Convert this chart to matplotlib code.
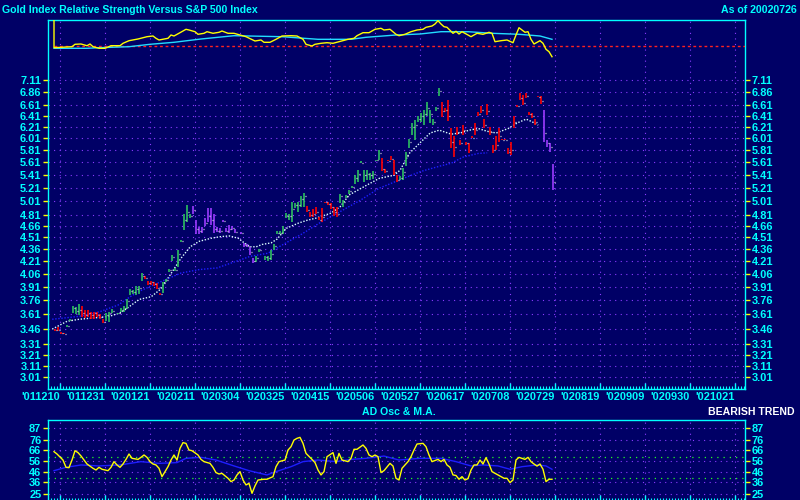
import numpy as np
import matplotlib
matplotlib.use('Agg')
import matplotlib.pyplot as plt
from matplotlib.ticker import FixedLocator, NullLocator, FixedFormatter

plt.rcParams['font.family'] = ['Liberation Sans', 'DejaVu Sans']
plt.rcParams['font.weight'] = 'bold'

# ---------------- data ----------------
tick_dates = ['2001-12-10', '2001-12-31', '2002-01-21', '2002-02-11', '2002-03-04',
              '2002-03-25', '2002-04-15', '2002-05-06', '2002-05-27', '2002-06-17',
              '2002-07-08', '2002-07-29', '2002-08-19', '2002-09-09', '2002-09-30',
              '2002-10-21']
price_ticks = [7.11, 6.86, 6.61, 6.41, 6.21, 6.01, 5.81, 5.61, 5.41, 5.21, 5.01, 4.81,
               4.66, 4.51, 4.36, 4.21, 4.06, 3.91, 3.76, 3.61, 3.46, 3.31, 3.21, 3.11, 3.01]
osc_ticks = [87, 76, 66, 56, 46, 36, 25]

# price bars: weekday index from 2001-12-10
bar_day = [-2, -1, 0, 1, 2, 3, 4, 5, 6, 7, 8, 9, 10, 11, 12, 13, 14, 15, 16, 17, 19, 20, 21, 22,
           23, 24, 25, 26, 27, 28, 29, 30, 31, 32, 33, 34, 35, 36, 37, 38, 39, 40, 41, 42, 43,
           44, 45, 46, 47, 48, 49, 50, 51, 52, 53, 54, 55, 56, 57, 58, 60, 61, 62, 63, 64, 65,
           66, 68, 69, 70, 71, 72, 73, 74, 75, 76, 77, 78, 79, 80, 81, 82, 83, 84, 85, 86, 87,
           88, 89, 90, 91, 92, 93, 94, 95, 96, 97, 98, 99, 100, 101, 102, 103, 104, 105, 106,
           107, 108, 109, 110, 111, 112, 113, 114, 115, 116, 117, 118, 119, 120, 121, 122, 123,
           124, 125, 126, 127, 128, 129, 130, 131, 132, 133, 134, 135, 136, 137, 138, 139, 140,
           141, 142, 143, 144, 145, 146, 147, 148, 149, 150, 151, 152, 153, 154, 155, 156, 157,
           158, 159, 160, 161, 162, 163, 164]
bar_high = [3.46, 3.48, 3.43, 3.42, 3.50, 3.56, 3.70, 3.69, 3.72, 3.70, 3.66, 3.66, 3.64, 3.64,
            3.64, 3.61, 3.56, 3.63, 3.64, 3.67, 3.63, 3.68, 3.70, 3.78, 3.89, 3.87, 3.92, 3.92,
            4.07, 4.04, 3.98, 3.98, 3.96, 3.95, 3.84, 3.97, 4.00, 4.12, 4.29, 4.13, 4.35, 4.48,
            4.82, 4.96, 4.82, 4.94, 4.74, 4.65, 4.65, 4.77, 4.91, 4.91, 4.82, 4.65, 4.63, 4.75,
            4.63, 4.68, 4.66, 4.62, 4.58, 4.44, 4.42, 4.39, 4.25, 4.28, 4.36, 4.28, 4.27, 4.35,
            4.43, 4.59, 4.59, 4.66, 4.84, 4.83, 4.99, 4.98, 4.99, 5.08, 5.13, 4.94, 4.86, 4.89,
            4.93, 4.79, 4.91, 5.00, 5.00, 4.98, 4.93, 4.93, 5.12, 5.03, 5.10, 5.18, 5.23, 5.40,
            5.48, 5.62, 5.48, 5.48, 5.44, 5.46, 5.65, 5.81, 5.67, 5.50, 5.65, 5.70, 5.64, 5.40,
            5.38, 5.51, 5.78, 6.00, 6.27, 6.33, 6.40, 6.46, 6.52, 6.68, 6.52, 6.35, 6.58, 6.95,
            6.68, 6.55, 6.71, 6.18, 6.04, 6.21, 5.98, 6.24, 5.95, 5.92, 6.04, 6.27, 6.49, 6.60,
            6.35, 6.63, 6.21, 5.89, 6.04, 6.18, 6.00, 6.00, 5.84, 5.95, 6.40, 6.61, 6.84, 6.81,
            6.84, 6.49, 6.47, 6.36, 6.79, 6.78, 6.52, 5.98, 5.92, 5.58]
bar_low = [3.44, 3.44, 3.41, 3.41, 3.48, 3.54, 3.62, 3.61, 3.60, 3.58, 3.57, 3.58, 3.56, 3.56,
           3.58, 3.56, 3.52, 3.54, 3.53, 3.63, 3.61, 3.64, 3.64, 3.67, 3.82, 3.83, 3.82, 3.83,
           3.98, 4.00, 3.93, 3.93, 3.92, 3.88, 3.82, 3.84, 3.97, 4.08, 4.21, 4.09, 4.14, 4.45,
           4.61, 4.72, 4.77, 4.83, 4.55, 4.55, 4.57, 4.66, 4.72, 4.68, 4.57, 4.58, 4.57, 4.71,
           4.58, 4.57, 4.61, 4.57, 4.56, 4.39, 4.39, 4.29, 4.19, 4.20, 4.33, 4.23, 4.21, 4.23,
           4.35, 4.55, 4.55, 4.55, 4.77, 4.75, 4.72, 4.91, 4.86, 4.93, 4.93, 4.86, 4.79, 4.79,
           4.82, 4.74, 4.72, 4.98, 4.96, 4.89, 4.80, 4.78, 4.98, 4.93, 5.05, 5.12, 5.20, 5.27,
           5.30, 5.59, 5.30, 5.33, 5.33, 5.34, 5.62, 5.64, 5.46, 5.44, 5.62, 5.64, 5.40, 5.30,
           5.33, 5.33, 5.54, 5.84, 6.07, 5.98, 6.30, 6.30, 6.24, 6.40, 6.27, 6.24, 6.51, 6.78,
           6.38, 6.49, 6.32, 5.84, 5.69, 6.07, 5.89, 6.07, 5.89, 5.75, 6.01, 6.07, 6.40, 6.46,
           6.18, 6.43, 6.07, 5.75, 5.81, 5.95, 5.97, 5.97, 5.74, 5.73, 6.18, 6.58, 6.71, 6.61,
           6.74, 6.43, 6.37, 6.25, 6.76, 6.63, 5.95, 5.86, 5.78, 5.18]
bar_close = [3.45, 3.45, 3.42, 3.41, 3.49, 3.55, 3.68, 3.65, 3.66, 3.62, 3.60, 3.63, 3.60, 3.62,
             3.60, 3.58, 3.53, 3.60, 3.62, 3.65, 3.62, 3.66, 3.68, 3.75, 3.86, 3.85, 3.88, 3.90,
             4.04, 4.01, 3.95, 3.96, 3.94, 3.90, 3.83, 3.95, 3.99, 4.10, 4.26, 4.11, 4.30, 4.47,
             4.75, 4.85, 4.80, 4.88, 4.62, 4.60, 4.62, 4.70, 4.80, 4.75, 4.62, 4.60, 4.60, 4.73,
             4.60, 4.62, 4.63, 4.58, 4.57, 4.41, 4.40, 4.32, 4.21, 4.25, 4.35, 4.26, 4.25, 4.30,
             4.40, 4.57, 4.57, 4.62, 4.80, 4.80, 4.90, 4.95, 4.95, 5.04, 5.08, 4.88, 4.81, 4.82,
             4.85, 4.75, 4.78, 4.99, 4.97, 4.92, 4.85, 4.82, 5.08, 5.00, 5.08, 5.16, 5.22, 5.35,
             5.42, 5.60, 5.40, 5.42, 5.40, 5.42, 5.64, 5.75, 5.50, 5.46, 5.63, 5.66, 5.45, 5.33,
             5.36, 5.45, 5.70, 5.95, 6.20, 6.25, 6.35, 6.40, 6.45, 6.55, 6.45, 6.30, 6.55, 6.88,
             6.50, 6.52, 6.40, 5.95, 5.85, 6.12, 5.92, 6.15, 5.92, 5.80, 6.02, 6.15, 6.45, 6.52,
             6.25, 6.50, 6.12, 5.80, 5.90, 6.05, 5.98, 5.98, 5.78, 5.80, 6.30, 6.60, 6.75, 6.65,
             6.78, 6.45, 6.40, 6.30, 6.77, 6.70, 6.10, 5.92, 5.85, 5.30]
bar_color = (['r'] * 4 + ['g'] * 5 + ['r'] * 8 + ['g'] * 12 + ['r'] * 6 + ['g'] * 10 +
             ['p'] * 20 + ['g'] * 16 + ['r'] * 11 + ['g'] * 14 + ['r'] * 6 + ['g'] * 14 +
             ['r'] * 34 + ['p'] * 4)

white_ma_day = [-3, 2, 6, 13, 16, 20, 23, 26, 30, 33, 36, 40, 43, 46, 50, 53, 56, 59, 61, 63,
                65, 67, 70, 72, 75, 79, 82, 85, 90, 93, 96, 102, 106, 111, 113, 116, 120, 123,
                126, 130, 133, 136, 139, 142, 145, 149, 152, 155, 157, 159]
white_ma = [3.46, 3.54, 3.56, 3.58, 3.59, 3.63, 3.70, 3.77, 3.80, 3.88, 4.03, 4.25, 4.39, 4.46,
            4.50, 4.52, 4.53, 4.50, 4.44, 4.39, 4.39, 4.42, 4.44, 4.49, 4.63, 4.70, 4.74, 4.77,
            4.84, 4.93, 5.10, 5.25, 5.35, 5.40, 5.48, 5.75, 5.95, 6.10, 6.15, 6.08, 6.10, 6.15,
            6.18, 6.13, 6.10, 6.18, 6.28, 6.35, 6.30, 6.24]
blue_ma_day = [-3, 6, 13, 19, 23, 26, 32, 36, 40, 46, 52, 63, 69, 74, 80, 86, 93, 100, 106, 113,
               120, 126, 130, 134, 139, 142]
blue_ma = [3.56, 3.59, 3.64, 3.71, 3.80, 3.86, 3.95, 4.01, 4.07, 4.11, 4.13, 4.27, 4.31, 4.42,
           4.55, 4.70, 4.86, 5.03, 5.20, 5.33, 5.46, 5.54, 5.59, 5.69, 5.75, 5.76]

# relative strength (gold / S&P, baseline = 1.0)
rs_day = [-2, -2, 4, 5, 7, 9, 10, 11, 13, 15, 17, 20, 21, 23, 26, 29, 31, 32, 33, 36, 37, 38,
          40, 42, 43, 45, 46, 48, 49, 51, 53, 54, 56, 58, 60, 62, 65, 67, 68, 70, 72, 74, 77,
          79, 81, 82, 84, 85, 87, 89, 91, 93, 96, 98, 99, 101, 103, 105, 107, 108, 110, 112,
          113, 115, 117, 119, 121, 122, 124, 125, 126, 127, 128, 129, 131, 132, 133, 134, 136,
          137, 139, 141, 143, 144, 145, 147, 149, 151, 152, 153, 155, 156, 157, 158, 160, 161,
          162, 163, 164]
rs_val = [1.40, 0.986, 0.996, 1.020, 1.023, 1.006, 1.023, 0.996, 0.980, 0.980, 1.006, 1.006,
          1.030, 1.056, 1.073, 1.096, 1.103, 1.080, 1.063, 1.080, 1.113, 1.103, 1.136, 1.170,
          1.163, 1.146, 1.120, 1.130, 1.146, 1.130, 1.140, 1.153, 1.130, 1.130, 1.113, 1.096,
          1.053, 1.063, 1.040, 1.040, 1.070, 1.103, 1.106, 1.103, 1.070, 1.020, 1.003, 1.020,
          1.030, 1.036, 1.030, 1.046, 1.070, 1.080, 1.106, 1.136, 1.136, 1.170, 1.180, 1.163,
          1.170, 1.120, 1.106, 1.120, 1.146, 1.163, 1.170, 1.190, 1.203, 1.223, 1.256, 1.223,
          1.196, 1.190, 1.130, 1.150, 1.123, 1.146, 1.113, 1.096, 1.130, 1.120, 1.140, 1.130,
          1.046, 1.056, 1.063, 1.036, 1.113, 1.186, 1.140, 1.146, 1.070, 1.023, 1.056, 1.030,
          0.970, 0.946, 0.896]
rs_ma_day = [-2, 9, 13, 23, 30, 38, 47, 58, 74, 86, 97, 102, 112, 120, 127, 136, 144, 153, 160, 164]
rs_ma = [0.980, 0.980, 0.986, 0.996, 1.020, 1.040, 1.073, 1.106, 1.096, 1.070, 1.070, 1.090,
         1.113, 1.123, 1.146, 1.146, 1.130, 1.120, 1.103, 1.070]

# AD oscillator and its moving average
ad_day = [-2, -1, 1, 2, 3, 4, 5, 6, 7, 8, 9, 11, 12, 13, 14, 16, 17, 18, 19, 20, 21, 22, 23, 24,
          26, 27, 28, 29, 30, 31, 32, 33, 34, 36, 37, 38, 39, 40, 41, 42, 43, 44, 46, 47, 48,
          50, 51, 52, 53, 54, 56, 57, 58, 59, 60, 61, 62, 63, 64, 65, 66, 68, 69, 71, 72, 73,
          75, 76, 77, 78, 79, 80, 81, 82, 84, 85, 86, 87, 88, 89, 91, 92, 93, 94, 96, 97, 98,
          99, 101, 102, 103, 104, 105, 106, 107, 108, 110, 111, 112, 113, 114, 116, 117, 118,
          119, 121, 122, 123, 124, 126, 127, 128, 129, 130, 131, 132, 133, 134, 135, 136, 137,
          138, 139, 140, 141, 142, 143, 144, 146, 147, 148, 149, 150, 151, 152, 153, 154, 155,
          156, 157, 158, 159, 160, 161, 162, 163, 164]
ad_val = [64.7, 62.5, 56.9, 50.1, 49.8, 56.9, 65.6, 63.8, 60.7, 56.9, 53.2, 49.2, 47.6, 50.1,
          48.3, 47.0, 50.1, 55.4, 52.3, 50.1, 53.2, 57.5, 62.5, 58.5, 57.5, 59.4, 61.6, 59.4,
          55.4, 53.2, 52.3, 49.2, 41.4, 50.7, 56.9, 61.6, 56.9, 67.8, 73.1, 72.4, 66.2, 65.6,
          61.6, 57.5, 55.4, 53.8, 50.1, 45.2, 43.9, 44.5, 39.9, 36.8, 38.3, 43.0, 46.1, 38.3,
          33.7, 35.2, 25.9, 32.8, 38.3, 39.0, 39.0, 41.4, 50.7, 55.4, 56.9, 66.2, 69.3, 75.5,
          77.1, 78.0, 72.4, 63.1, 57.5, 54.5, 47.6, 43.0, 46.1, 60.0, 63.8, 53.8, 63.1, 56.9,
          55.4, 58.5, 66.9, 66.9, 70.9, 67.8, 61.6, 60.0, 61.6, 60.0, 45.2, 47.0, 53.8, 51.3,
          39.9, 38.3, 49.2, 55.4, 60.0, 66.2, 71.8, 72.4, 69.3, 61.6, 55.4, 57.5, 55.4, 57.5,
          52.3, 50.1, 43.0, 42.5, 39.0, 41.4, 38.3, 39.6, 47.6, 52.3, 52.3, 56.9, 53.2, 59.1,
          53.2, 46.1, 43.0, 41.4, 39.9, 39.9, 35.9, 38.3, 56.9, 59.4, 58.5, 57.5, 59.4, 55.4,
          53.2, 51.3, 53.2, 48.3, 36.8, 39.0, 39.0]
ad_ma_day = [-2, 2, 7, 13, 20, 27, 33, 39, 42, 47, 52, 58, 63, 69, 72, 77, 81, 86, 92, 97, 102,
             108, 113, 120, 127, 132, 137, 141, 146, 150, 154, 159, 162, 164]
ad_ma = [47.0, 50.1, 52.3, 51.4, 52.3, 55.4, 53.8, 54.5, 58.5, 59.4, 56.9, 51.4, 47.0, 43.0,
         46.1, 50.7, 55.4, 56.9, 55.4, 57.5, 58.5, 60.6, 56.9, 58.5, 58.5, 55.4, 51.4, 52.3,
         51.4, 48.3, 50.7, 52.3, 51.4, 48.3]
ad_levels = [60, 40]

# ---------------- style ----------------
BG = '#000066'
CYAN = '#00FFFF'
YEL = '#FFFF00'
GRIDC = '#8C3CFF'
COLORS = {'g': '#2CC060', 'r': '#FF0000', 'p': '#9B3CFF'}
W, H = 800, 500
X0, X1 = 48, 745
OFF = 0.4

fig = plt.figure(figsize=(8, 5), dpi=100, facecolor=BG)


def box(top, bottom):
    return [X0 / W, 1 - bottom / H, (X1 - X0) / W, (bottom - top) / H]


tick_pos = np.busday_count('2001-12-10', tick_dates)
tick_lab = ["'" + d[2:4] + d[5:7] + d[8:10] for d in tick_dates]
xlim = (-4, (X1 - 60) / 3.0)
dots = (0, (1, 4))

# ---- main price axes ----
ax = fig.add_axes(box(20, 389))
ax.set_facecolor(BG)
ax.set_yscale('log')
ax.set_ylim(2.910, 8.457)
ax.set_xlim(*xlim)
for s in ax.spines.values():
    s.set_color(CYAN)
    s.set_linewidth(1.0)
ax.yaxis.set_major_locator(FixedLocator(price_ticks))
ax.yaxis.set_major_formatter(FixedFormatter(['%.2f' % v for v in price_ticks]))
ax.yaxis.set_minor_locator(NullLocator())
ax.xaxis.set_major_locator(FixedLocator(tick_pos))
ax.xaxis.set_major_formatter(FixedFormatter(tick_lab))
ax.xaxis.set_minor_locator(FixedLocator(np.arange(-3, 229)))
ax.tick_params(axis='y', which='major', direction='out', length=3.6, width=1, color=YEL,
               labelcolor=CYAN, labelsize=7.9, left=True, right=True, labelleft=True,
               labelright=True, pad=1.2)
ax.tick_params(axis='x', which='major', direction='in', length=4.5, width=1, color=CYAN,
               labelcolor=CYAN, labelsize=7.9, pad=2.0)
ax.tick_params(axis='x', which='minor', direction='in', length=2.2, width=0.8, color=CYAN)
for lab in ax.get_xticklabels():
    lab.set_ha('right')
    lab.set_fontweight('bold')
for lab in ax.get_yticklabels():
    lab.set_fontweight('bold')
ax.grid(True, which='major', color=GRIDC, linestyle=dots, linewidth=0.8)

bx = np.array(bar_day) + OFF
ax.plot(np.array(white_ma_day) + OFF, white_ma, color='#DDFFFF', lw=1.0, ls=(0, (1, 1.2)))
ax.plot(np.array(blue_ma_day) + OFF, blue_ma, color='#1E1EFF', lw=1.0, ls=(0, (1, 1.2)))
ax.vlines(bx, bar_low, bar_high, colors=[COLORS[c] for c in bar_color], lw=1.2)
ax.hlines(bar_close, bx + 0.3, bx + 0.7, colors='#E8E8E8', lw=0.9)

# ---- relative strength strip ----
rs = fig.add_axes(box(20, 70))
rs.set_xlim(*xlim)
rs.set_ylim(0.763, 1.263)
rs.axis('off')
rs.patch.set_alpha(0)
rs.plot([rs_day[0], xlim[1]], [1.0, 1.0], color='#FF2020', lw=1.0, ls=(0, (2, 2)))
rs.plot(rs_ma_day, rs_ma, color='#22DDFF', lw=1.0)
rs.plot(rs_day, rs_val, color=YEL, lw=1.0)

# ---- AD oscillator ----
ao = fig.add_axes(box(420, 501))
ao.set_facecolor(BG)
ao.set_xlim(*xlim)
ao.set_ylim(18.75, 94.17)
for k, s in ao.spines.items():
    s.set_color(CYAN)
    s.set_linewidth(1.0)
ao.spines['bottom'].set_visible(False)
ao.yaxis.set_major_locator(FixedLocator(osc_ticks))
ao.yaxis.set_major_formatter(FixedFormatter([str(v) for v in osc_ticks]))
ao.xaxis.set_major_locator(FixedLocator(tick_pos))
ao.xaxis.set_minor_locator(FixedLocator(np.arange(-3, 229)))
ao.tick_params(axis='y', direction='out', length=3.6, width=1, color=YEL, labelcolor=CYAN,
               labelsize=7.9, left=True, right=True, labelleft=True, labelright=True, pad=1.2)
ao.tick_params(axis='x', which='major', direction='in', length=4.5, width=1, color=CYAN,
               labelbottom=False)
ao.tick_params(axis='x', which='minor', direction='in', length=2.2, width=0.8, color=CYAN)
for lab in ao.get_yticklabels():
    lab.set_fontweight('bold')
ao.grid(True, which='major', color=GRIDC, linestyle=dots, linewidth=0.8)
for lv in ad_levels:
    ao.axhline(lv, color='#22FF22', lw=0.9, ls=dots)
ao.plot(ad_ma_day, ad_ma, color='#1E1EFF', lw=1.0)
ao.plot(ad_day, ad_val, color=YEL, lw=1.0)

# ---- texts ----
fs = 7.6
fig.text(2 / W, 1 - 10 / H, 'Gold Index Relative Strength Versus S&P 500 Index', color=CYAN,
         fontsize=fs, fontweight='bold', ha='left', va='center')
fig.text(797 / W, 1 - 10 / H, 'As of 20020726', color=CYAN, fontsize=fs, fontweight='bold',
         ha='right', va='center')
fig.text(399 / W, 1 - 412 / H, 'AD Osc & M.A.', color=CYAN, fontsize=fs, fontweight='bold',
         ha='center', va='center')
fig.text(795 / W, 1 - 412 / H, 'BEARISH TREND', color='white', fontsize=fs, fontweight='bold',
         ha='right', va='center')

fig.savefig('out.png', dpi=100, facecolor=BG)
